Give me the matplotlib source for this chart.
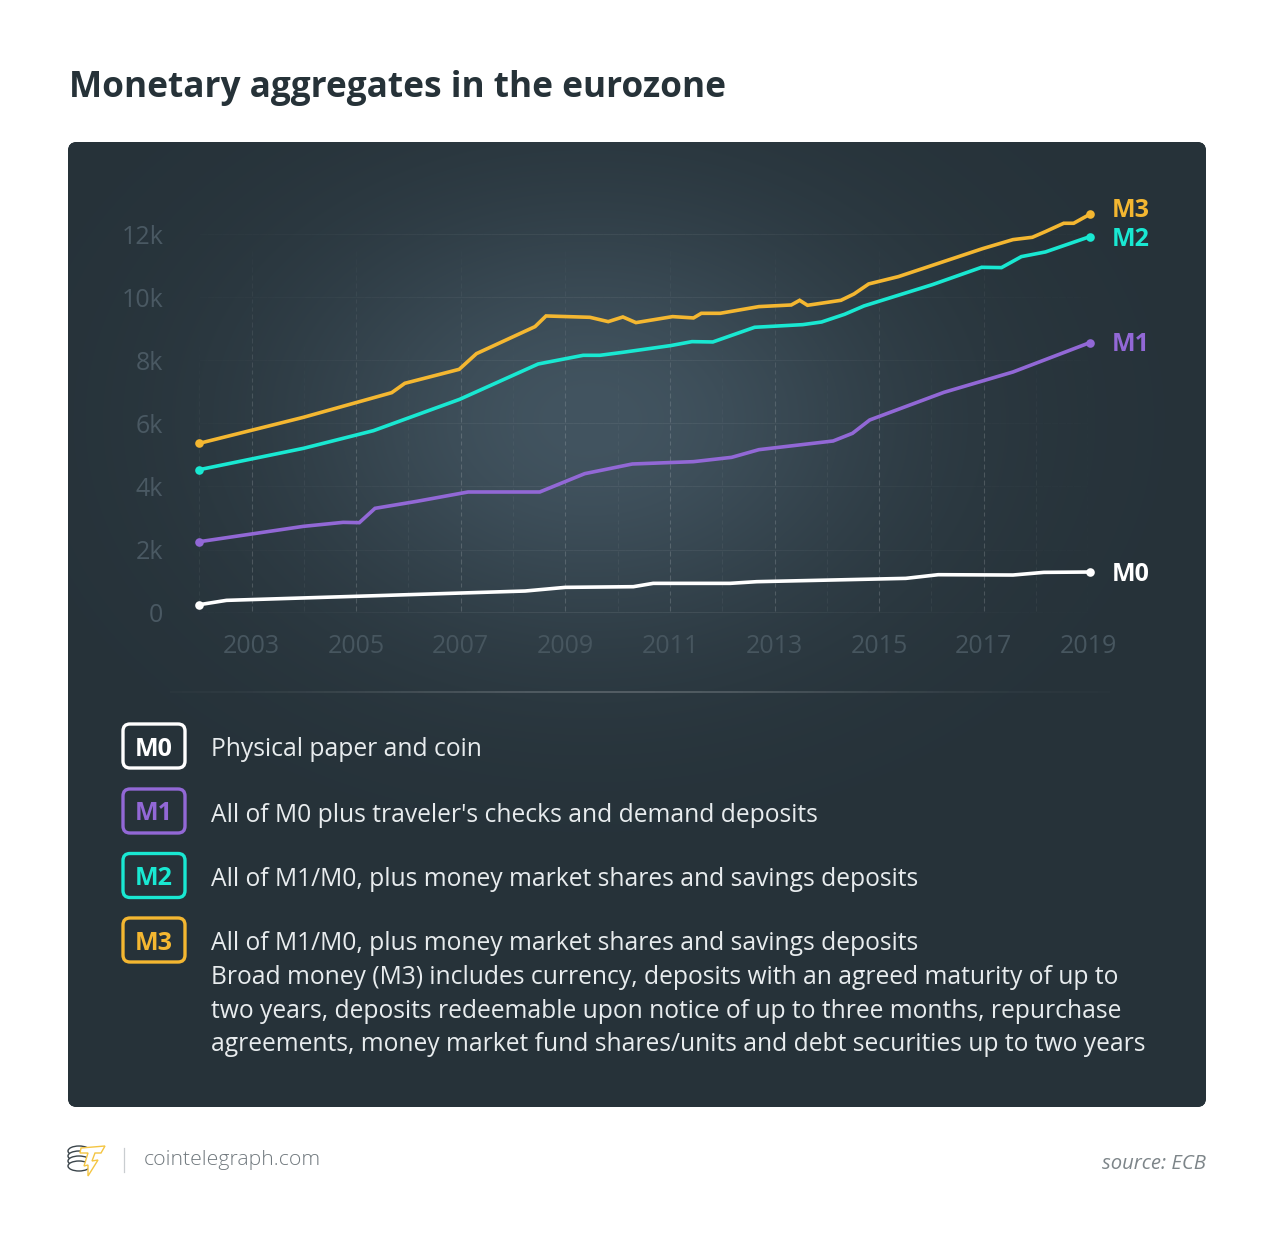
import numpy as np
import matplotlib
matplotlib.use('Agg')
import matplotlib.pyplot as plt
from matplotlib.patches import FancyBboxPatch, Ellipse, Polygon
from matplotlib.collections import LineCollection

plt.rcParams['font.family'] = ['Open Sans', 'DejaVu Sans']

# Dades llegides del gràfic (any, valor)
m0_x = [2002.0, 2002.52, 2008.23, 2009.0, 2010.30, 2010.68, 2012.15, 2012.66, 2015.51, 2016.13, 2017.56, 2018.15, 2019.03]
m0_y = [254, 391, 687, 803, 824, 930, 930, 983, 1088, 1204, 1194, 1278, 1289]

m1_x = [2002.0, 2003.99, 2004.75, 2005.06, 2005.36, 2006.16, 2007.14, 2008.51, 2009.37, 2010.28, 2011.45,
        2012.18, 2012.70, 2014.12, 2014.49, 2014.82, 2016.24, 2017.56, 2019.03]
m1_y = [2250, 2736, 2863, 2853, 3307, 3529, 3825, 3825, 4406, 4712, 4786,
        4923, 5166, 5441, 5684, 6107, 6983, 7628, 8558]

m2_x = [2002.0, 2003.99, 2005.33, 2006.98, 2008.48, 2009.34, 2009.66, 2010.10, 2011.01, 2011.42, 2011.82, 2012.62,
        2013.54, 2013.90, 2014.34, 2014.71, 2016.02, 2016.96, 2017.34, 2017.72, 2018.18, 2019.03]
m2_y = [4532, 5208, 5768, 6762, 7881, 8156, 8156, 8251, 8463, 8589, 8579, 9044,
        9128, 9212, 9456, 9720, 10396, 10945, 10935, 11283, 11431, 11917]

m3_x = [2002.0, 2003.99, 2005.68, 2005.93, 2006.97, 2007.30, 2008.42, 2008.63, 2009.47, 2009.82, 2010.10, 2010.35,
        2011.05, 2011.45, 2011.60, 2011.96, 2012.70, 2013.32, 2013.48, 2013.63, 2014.27, 2014.52, 2014.80, 2015.37,
        2016.98, 2017.56, 2017.93, 2018.18, 2018.53, 2018.72, 2019.03]
m3_y = [5367, 6191, 6973, 7269, 7712, 8209, 9065, 9403, 9360, 9223, 9371, 9192,
        9382, 9340, 9487, 9487, 9699, 9751, 9899, 9741, 9899, 10100, 10417, 10650,
        11537, 11822, 11896, 12076, 12340, 12340, 12625]

series_names = ['M0', 'M1', 'M2', 'M3']
series_x = [m0_x, m1_x, m2_x, m3_x]
series_y = [m0_y, m1_y, m2_y, m3_y]
colors = ['#ffffff', '#9268d6', '#19e8d2', '#f4b731']

y_ticks = [0, 2000, 4000, 6000, 8000, 10000, 12000]
y_labels = ['0', '2k', '4k', '6k', '8k', '10k', '12k']
x_ticks = [2003, 2005, 2007, 2009, 2011, 2013, 2015, 2017, 2019]

descriptions = [
    'Physical paper and coin',
    "All of M0 plus traveler's checks and demand deposits",
    'All of M1/M0, plus money market shares and savings deposits',
    'All of M1/M0, plus money market shares and savings deposits\n'
    'Broad money (M3) includes currency, deposits with an agreed maturity of up to\n'
    'two years, deposits redeemable upon notice of up to three months, repurchase\n'
    'agreements, money market fund shares/units and debt securities up to two years',
]

W, H = 1280, 1248
fig = plt.figure(figsize=(W / 100, H / 100), dpi=100, facecolor='white')

# Capa de fons en píxels
bg = fig.add_axes([0, 0, 1, 1])
bg.set_xlim(0, W)
bg.set_ylim(H, 0)
bg.axis('off')

panel = FancyBboxPatch((68, 142), 1138, 965, boxstyle='round,pad=0,rounding_size=9',
                       fc='#263238', ec='none')
bg.add_patch(panel)

# Degradat radial del panell
px, py = np.meshgrid(np.arange(68, 1206), np.arange(142, 1107))
glow = np.exp(-((px - 590) / 300.0) ** 2 - ((py - 420) / 215.0) ** 2)
base = np.array([0x26, 0x32, 0x39]) / 255
top = np.array([0x42, 0x54, 0x60]) / 255
rgb = base + (top - base) * glow[..., None]
im = bg.imshow(rgb, extent=[68, 1206, 1107, 142], aspect='auto', zorder=1)
im.set_clip_path(panel)
bg.set_xlim(0, W)
bg.set_ylim(H, 0)

# Eix del gràfic
x0, x1 = 199.3, 1088.3
y0, y1 = 612.7, 234.0
ax = fig.add_axes([x0 / W, 1 - y0 / H, (x1 - x0) / W, (y0 - y1) / H])
ax.patch.set_alpha(0)
ax.set_xlim(2002, 2019)
ax.set_ylim(0, 12000)
for s in ax.spines.values():
    s.set_visible(False)

ax.set_yticks(y_ticks)
ax.set_yticklabels(y_labels)
ax.set_xticks(x_ticks)
ax.set_xticklabels([str(t) for t in x_ticks])
ax.tick_params(axis='y', length=0, pad=26, labelsize=18, labelcolor='#4a5963')
ax.tick_params(axis='x', length=0, pad=15, labelsize=18, labelcolor='#47565f')


def fade_segments(xs, ys, alphas, lw, color=(1, 1, 1), z=1):
    pts = np.column_stack([xs, ys]).reshape(-1, 1, 2)
    segs = np.concatenate([pts[:-1], pts[1:]], axis=1)
    rgba = [(*color, a) for a in alphas]
    ax.add_collection(LineCollection(segs, colors=rgba, linewidths=lw, zorder=z, capstyle='butt'))


# Graella horitzontal: s'esvaeix cap als costats
gx = np.linspace(2002, 2019, 120)
for v in y_ticks[1:]:
    a = 0.06 * np.exp(-((gx[:-1] - 2010) / 6.5) ** 2)
    fade_segments(gx, np.full_like(gx, v), a, 0.7)

# Línia base
a = 0.42 * np.exp(-((gx[:-1] - 2010) / 5.5) ** 2)
fade_segments(gx, np.zeros_like(gx), a, 1.0, z=2)

# Graella vertical: discontínua als anys senars, molt suau als parells
for yr in range(2002, 2020):
    strong = yr % 2 == 1
    step = 250.0
    starts = np.arange(50, 11500, step)
    for st in starts:
        v = np.array([st, st + step * 0.6])
        fade = min(1.0, (11800 - st) / 6000) if strong else min(1.0, (8800 - st) / 4000)
        alpha = (0.16 if strong else 0.05) * max(fade, 0)
        if alpha > 0:
            ax.plot([yr, yr], v, color='white', alpha=alpha, lw=0.8, zorder=1, solid_capstyle='butt')

# Sèries
for name, xs, ys, c in zip(series_names, series_x, series_y, colors):
    ax.plot(xs, ys, color=c, lw=2.6, zorder=4, clip_on=False, solid_joinstyle='miter')
    ax.plot(xs[0], ys[0], 'o', color=c, ms=6.2, mew=0, zorder=5, clip_on=False)
    ax.plot(xs[-1], ys[-1], 'o', color=c, ms=6.2, mew=0, zorder=5, clip_on=False)

label_off = {'M0': -1, 'M1': 0, 'M2': -1, 'M3': 6}
for name, xs, ys, c in zip(series_names, series_x, series_y, colors):
    ax.annotate(name, (xs[-1], ys[-1]), xytext=(15.5, label_off[name] * 0.72 - 1.4), textcoords='offset points',
                color=c, fontsize=18, fontweight='bold', va='center', ha='left', annotation_clip=False)

# Separador
sx = np.linspace(170, 1110, 160)
pts = np.column_stack([sx, np.full_like(sx, 691.5)]).reshape(-1, 1, 2)
segs = np.concatenate([pts[:-1], pts[1:]], axis=1)
sa = 0.22 * np.exp(-((sx[:-1] - 620) / 300.0) ** 2)
bg.add_collection(LineCollection(segs, colors=[(1, 1, 1, a) for a in sa], linewidths=1.2, zorder=2))

# Llegenda
box_tops = [724, 789, 853.5, 918]
text_tops = [750, 815, 879.5, 944]
for name, c, t, ty, desc in zip(series_names, colors, box_tops, text_tops, descriptions):
    bg.add_patch(FancyBboxPatch((123, t), 62, 44, boxstyle='round,pad=0,rounding_size=7',
                                fc='none', ec=c, lw=2.4, zorder=3))
    bg.text(154, t + 25, name, color=c, fontsize=18, fontweight='bold', ha='center', va='center', zorder=3)
    first_line_y = ty
    for i, line in enumerate(desc.split('\n')):
        bg.text(211, first_line_y + i * 33.5, line, color='#e8ecee', fontsize=17.75, ha='left', va='center', zorder=3)

# Títol
bg.text(69, 88, 'Monetary aggregates in the eurozone', color='#263238', fontsize=25.35,
        fontweight='bold', ha='left', va='center', zorder=3)

# Peu: logo i font
coin_y = [1151, 1156, 1161, 1166]
for cy in coin_y:
    bg.add_patch(Ellipse((79, cy), 22, 10, fc='white', ec='#3b454b', lw=1.0, zorder=3))
bolt = [(81, 1148), (105, 1146), (101, 1153), (95, 1153), (92, 1161), (98, 1160), (88, 1176), (88, 1165), (84, 1166), (88, 1153), (80, 1153)]
bg.add_patch(Polygon(bolt, closed=True, fc='white', ec='#f4c542', lw=1.0, zorder=4))
bg.plot([124, 124], [1148, 1172], color='#c9cdd0', lw=0.9, zorder=3)
bg.text(144, 1160, 'cointelegraph.com', color='#71797e', fontsize=15.3, fontweight='light', ha='left', va='center', zorder=3)
bg.text(1206, 1164, 'source: ECB', color='#7d8589', fontsize=14.6, fontstyle='italic', ha='right', va='center', zorder=3)

fig.savefig('out.png', dpi=100, facecolor='white')
